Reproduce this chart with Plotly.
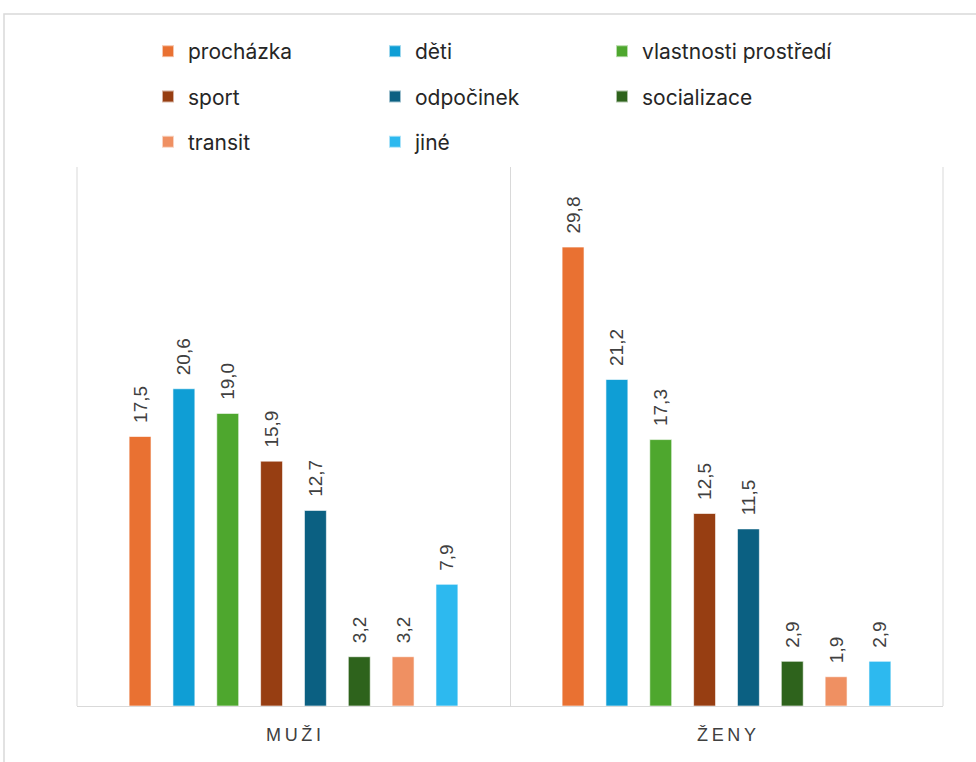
import plotly.graph_objects as go

categories = ["MUŽI", "ŽENY"]
tick_labels = ["M\u2009U\u2009Ž\u2009I", "Ž\u2009E\u2009N\u2009Y"]

series_names = ["procházka", "děti", "vlastnosti prostředí", "sport",
                "odpočinek", "socializace", "transit", "jiné"]
series_values = {
    "procházka": [17.5, 29.8],
    "děti": [20.6, 21.2],
    "vlastnosti prostředí": [19.0, 17.3],
    "sport": [15.9, 12.5],
    "odpočinek": [12.7, 11.5],
    "socializace": [3.2, 2.9],
    "transit": [3.2, 1.9],
    "jiné": [7.9, 2.9],
}
colors = {
    "procházka": "#E97132",
    "děti": "#0F9ED5",
    "vlastnosti prostředí": "#4EA72E",
    "sport": "#973E12",
    "odpočinek": "#0B6082",
    "socializace": "#2E631C",
    "transit": "#EF9062",
    "jiné": "#2DB9EF",
}
legend_of = {
    "procházka": "legend", "sport": "legend", "transit": "legend",
    "děti": "legend2", "odpočinek": "legend2", "jiné": "legend2",
    "vlastnosti prostředí": "legend3", "socializace": "legend3",
}

fig = go.Figure()
for name in series_names:
    vals = series_values[name]
    fig.add_trace(go.Bar(
        x=categories, y=vals, name=name,
        marker=dict(color=colors[name], line=dict(color="rgba(255,255,255,0.6)", width=1)),
        text=["\u00a0\u00a0" + f"{v:.1f}".replace(".", ",") for v in vals],
        textposition="outside", textangle=-90, constraintext="none",
        textfont=dict(family="Liberation Sans, Arial", size=19, color="#404040"),
        cliponaxis=False,
        legend=legend_of[name], legendgroup=name,
        hoverinfo="skip",
    ))

W, H = 976, 762
L, R, T, B = 77, 33, 167, 56
pw, ph = W - L - R, H - T - B

def px(x):
    return (x - L) / pw

def py(y):
    return (H - B - y) / ph

legend_common = dict(
    orientation="v", yanchor="top", xanchor="left",
    font=dict(family="Inter, Open Sans, sans-serif", size=21, color="#262626"),
    tracegroupgap=15, itemsizing="constant", bgcolor="rgba(0,0,0,0)",
)

grid_line = dict(color="#d9d9d9", width=1)

fig.update_layout(
    width=W, height=H,
    margin=dict(l=L, r=R, t=T, b=B, autoexpand=False),
    paper_bgcolor="white", plot_bgcolor="white",
    barmode="group", bargap=0.19, bargroupgap=0.5,
    showlegend=True,
    legend=dict(x=px(148), y=py(31), **legend_common),
    legend2=dict(x=px(375), y=py(31), **legend_common),
    legend3=dict(x=px(602), y=py(31), **legend_common),
    xaxis=dict(
        type="category", tickvals=categories, ticktext=tick_labels,
        tickson="boundaries", showgrid=True, gridcolor="#d9d9d9", gridwidth=1,
        showline=True, linecolor="#d9d9d9", linewidth=1,
        ticks="", ticklabelstandoff=12,
        tickfont=dict(family="Liberation Sans, Arial", size=18, color="#404040"),
        zeroline=False,
    ),
    yaxis=dict(range=[0, 35], visible=False, showgrid=False, zeroline=False),
    shapes=[
        dict(type="rect", xref="paper", yref="paper",
             x0=px(4), x1=px(1100), y0=py(14), y1=py(900),
             line=dict(color="#d9d9d9", width=1.5), fillcolor="rgba(0,0,0,0)", layer="below"),
        dict(type="line", xref="paper", yref="paper", x0=0, x1=0, y0=0, y1=1,
             line=grid_line, layer="below"),
        dict(type="line", xref="paper", yref="paper", x0=1, x1=1, y0=0, y1=1,
             line=grid_line, layer="below"),
    ],
)

fig.write_html("out.html")
